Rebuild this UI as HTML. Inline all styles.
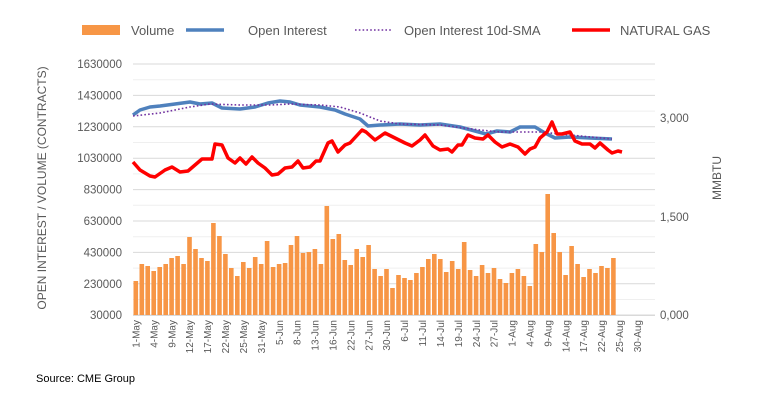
<!DOCTYPE html>
<html><head><meta charset="utf-8"><style>
body{margin:0;background:#fff;}
svg{display:block;font-family:"Liberation Sans",sans-serif;}
</style></head><body>
<svg width="761" height="414" xmlns="http://www.w3.org/2000/svg">
<rect width="761" height="414" fill="#fff"/>
<g stroke="#efefef" stroke-width="1">
<line x1="133" x2="655" y1="79.7" y2="79.7"/><line x1="133" x2="655" y1="111.1" y2="111.1"/><line x1="133" x2="655" y1="142.5" y2="142.5"/><line x1="133" x2="655" y1="173.9" y2="173.9"/><line x1="133" x2="655" y1="205.3" y2="205.3"/><line x1="133" x2="655" y1="236.7" y2="236.7"/><line x1="133" x2="655" y1="268.1" y2="268.1"/><line x1="133" x2="655" y1="299.5" y2="299.5"/>
</g>
<g stroke="#d9d9d9" stroke-width="1">
<line x1="133" x2="655" y1="64" y2="64"/><line x1="133" x2="655" y1="95.4" y2="95.4"/><line x1="133" x2="655" y1="126.8" y2="126.8"/><line x1="133" x2="655" y1="158.2" y2="158.2"/><line x1="133" x2="655" y1="189.6" y2="189.6"/><line x1="133" x2="655" y1="221" y2="221"/><line x1="133" x2="655" y1="252.4" y2="252.4"/><line x1="133" x2="655" y1="283.8" y2="283.8"/><line x1="133" x2="655" y1="315" y2="315"/>
</g>
<g fill="#f79646" id="bars">
<rect x="133.5" y="281" width="4.6" height="34"/><rect x="139.5" y="264" width="4.6" height="51"/><rect x="145.4" y="266" width="4.6" height="49"/><rect x="151.4" y="271" width="4.6" height="44"/><rect x="157.4" y="267" width="4.6" height="48"/><rect x="163.4" y="264" width="4.6" height="51"/><rect x="169.3" y="258" width="4.6" height="57"/><rect x="175.3" y="256" width="4.6" height="59"/><rect x="181.3" y="264" width="4.6" height="51"/><rect x="187.2" y="237" width="4.6" height="78"/><rect x="193.2" y="249" width="4.6" height="66"/><rect x="199.2" y="258" width="4.6" height="57"/><rect x="205.1" y="261" width="4.6" height="54"/><rect x="211.1" y="223" width="4.6" height="92"/><rect x="217.1" y="236" width="4.6" height="79"/><rect x="223.1" y="254" width="4.6" height="61"/><rect x="229" y="268" width="4.6" height="47"/><rect x="235" y="276" width="4.6" height="39"/><rect x="241" y="262" width="4.6" height="53"/><rect x="246.9" y="268" width="4.6" height="47"/><rect x="252.9" y="257" width="4.6" height="58"/><rect x="258.9" y="264" width="4.6" height="51"/><rect x="264.8" y="241" width="4.6" height="74"/><rect x="270.8" y="267" width="4.6" height="48"/><rect x="276.8" y="264" width="4.6" height="51"/><rect x="282.8" y="263" width="4.6" height="52"/><rect x="288.7" y="245" width="4.6" height="70"/><rect x="294.7" y="236" width="4.6" height="79"/><rect x="300.7" y="253" width="4.6" height="62"/><rect x="306.6" y="252" width="4.6" height="63"/><rect x="312.6" y="249" width="4.6" height="66"/><rect x="318.6" y="264" width="4.6" height="51"/><rect x="324.5" y="206" width="4.6" height="109"/><rect x="330.5" y="239" width="4.6" height="76"/><rect x="336.5" y="234" width="4.6" height="81"/><rect x="342.5" y="260" width="4.6" height="55"/><rect x="348.4" y="265" width="4.6" height="50"/><rect x="354.4" y="249" width="4.6" height="66"/><rect x="360.4" y="257" width="4.6" height="58"/><rect x="366.3" y="245" width="4.6" height="70"/><rect x="372.3" y="269" width="4.6" height="46"/><rect x="378.3" y="276" width="4.6" height="39"/><rect x="384.2" y="269" width="4.6" height="46"/><rect x="390.2" y="288" width="4.6" height="27"/><rect x="396.2" y="275" width="4.6" height="40"/><rect x="402.2" y="278" width="4.6" height="37"/><rect x="408.1" y="280" width="4.6" height="35"/><rect x="414.1" y="273" width="4.6" height="42"/><rect x="420.1" y="267" width="4.6" height="48"/><rect x="426" y="259" width="4.6" height="56"/><rect x="432" y="254" width="4.6" height="61"/><rect x="438" y="259" width="4.6" height="56"/><rect x="443.9" y="272" width="4.6" height="43"/><rect x="449.9" y="261" width="4.6" height="54"/><rect x="455.9" y="269" width="4.6" height="46"/><rect x="461.9" y="242" width="4.6" height="73"/><rect x="467.8" y="270" width="4.6" height="45"/><rect x="473.8" y="276" width="4.6" height="39"/><rect x="479.8" y="265" width="4.6" height="50"/><rect x="485.7" y="273" width="4.6" height="42"/><rect x="491.7" y="268" width="4.6" height="47"/><rect x="497.7" y="279" width="4.6" height="36"/><rect x="503.6" y="283" width="4.6" height="32"/><rect x="509.6" y="273" width="4.6" height="42"/><rect x="515.6" y="269" width="4.6" height="46"/><rect x="521.6" y="276" width="4.6" height="39"/><rect x="527.5" y="286" width="4.6" height="29"/><rect x="533.5" y="244" width="4.6" height="71"/><rect x="539.5" y="252" width="4.6" height="63"/><rect x="545.4" y="194" width="4.6" height="121"/><rect x="551.4" y="233" width="4.6" height="82"/><rect x="557.4" y="252" width="4.6" height="63"/><rect x="563.3" y="275" width="4.6" height="40"/><rect x="569.3" y="246" width="4.6" height="69"/><rect x="575.3" y="264" width="4.6" height="51"/><rect x="581.3" y="277" width="4.6" height="38"/><rect x="587.2" y="269" width="4.6" height="46"/><rect x="593.2" y="273" width="4.6" height="42"/><rect x="599.2" y="266" width="4.6" height="49"/><rect x="605.1" y="268" width="4.6" height="47"/><rect x="611.1" y="258" width="4.6" height="57"/>
</g>
<line x1="133" x2="655" y1="315.5" y2="315.5" stroke="#d9d9d9"/>
<polyline fill="none" stroke="#4f81bd" stroke-width="3.5" stroke-linejoin="round" points="133,115 140,110 150,107 160,106 175,104 190,102 200,104 212,103 222,108 240,109 255,107 268,103 280,101 290,102 300,105 320,107 335,110 345,114 360,119 368,126 380,125 400,124 420,125 440,124 460,127 475,131 486,134 497,131 510,132 520,127 535,127 545,133 555,138 570,137 590,138 612,139"/>
<polyline fill="none" stroke="#7030a0" stroke-width="1.6" stroke-dasharray="1.6,2.2" points="133,116 160,113 190,107 210,104 240,105 270,105 290,104 320,105 340,107 360,113 380,121 400,124 440,125 480,130 500,132 540,132 570,135 612,139"/>
<polyline fill="none" stroke="#ff0000" stroke-width="3.5" stroke-linejoin="round" points="133,162 140,170 150,176 155,177 165,170 172,167 180,172 188,171 195,165 202,159 212,159 215,144 222,145 228,158 235,163 240,158 246,164 252,157 258,163 265,168 272,175 278,174 285,168 292,167 298,161 303,168 310,167 316,161 320,161 328,143 332,141 338,152 345,145 350,143 362,130 366,132 375,140 385,133 395,138 405,143 412,146 420,140 425,135 433,146 440,150 448,149 452,152 458,145 462,145 468,135 475,138 483,139 488,135 495,142 502,147 510,144 518,147 525,154 530,149 535,147 540,138 547,132 552,122 557,134 562,134 570,132 575,141 582,144 590,144 595,148 600,143 608,150 612,153 618,151 622,152"/>
<g font-size="11.5" fill="#595959" text-anchor="end">
<text x="122" y="68">1630000</text><text x="122" y="99.4">1430000</text><text x="122" y="130.8">1230000</text><text x="122" y="162.2">1030000</text><text x="122" y="193.6">830000</text><text x="122" y="225">630000</text><text x="122" y="256.4">430000</text><text x="122" y="287.8">230000</text><text x="122" y="319">30000</text>
</g>
<g font-size="11.5" fill="#595959">
<text x="660" y="122">3,000</text><text x="660" y="221">1,500</text><text x="660" y="319">0,000</text>
</g>
<text transform="translate(46,188) rotate(-90)" text-anchor="middle" font-size="12" fill="#595959">OPEN INTEREST / VOLUME (CONTRACTS)</text>
<text transform="translate(721,178) rotate(-90)" text-anchor="middle" font-size="12" fill="#595959">MMBTU</text>
<g font-size="10" fill="#595959" text-anchor="end">
<text transform="translate(139.5,320) rotate(-90)">1-May</text><text transform="translate(157.4,320) rotate(-90)">4-May</text><text transform="translate(175.3,320) rotate(-90)">9-May</text><text transform="translate(193.2,320) rotate(-90)">12-May</text><text transform="translate(211.1,320) rotate(-90)">17-May</text><text transform="translate(229,320) rotate(-90)">22-May</text><text transform="translate(246.9,320) rotate(-90)">25-May</text><text transform="translate(264.8,320) rotate(-90)">31-May</text><text transform="translate(282.8,320) rotate(-90)">5-Jun</text><text transform="translate(300.7,320) rotate(-90)">8-Jun</text><text transform="translate(318.6,320) rotate(-90)">13-Jun</text><text transform="translate(336.5,320) rotate(-90)">16-Jun</text><text transform="translate(354.4,320) rotate(-90)">22-Jun</text><text transform="translate(372.3,320) rotate(-90)">27-Jun</text><text transform="translate(390.2,320) rotate(-90)">30-Jun</text><text transform="translate(408.1,320) rotate(-90)">6-Jul</text><text transform="translate(426,320) rotate(-90)">11-Jul</text><text transform="translate(443.9,320) rotate(-90)">14-Jul</text><text transform="translate(461.9,320) rotate(-90)">19-Jul</text><text transform="translate(479.8,320) rotate(-90)">24-Jul</text><text transform="translate(497.7,320) rotate(-90)">27-Jul</text><text transform="translate(515.6,320) rotate(-90)">1-Aug</text><text transform="translate(533.5,320) rotate(-90)">4-Aug</text><text transform="translate(551.4,320) rotate(-90)">9-Aug</text><text transform="translate(569.3,320) rotate(-90)">14-Aug</text><text transform="translate(587.2,320) rotate(-90)">17-Aug</text><text transform="translate(605.1,320) rotate(-90)">22-Aug</text><text transform="translate(623,320) rotate(-90)">25-Aug</text><text transform="translate(640.9,320) rotate(-90)">30-Aug</text>
</g>
<rect x="82" y="25" width="38" height="10" fill="#f79646"/>
<text x="131" y="35" font-size="13" fill="#595959">Volume</text>
<line x1="186" x2="224" y1="30" y2="30" stroke="#4f81bd" stroke-width="3.5"/>
<text x="248" y="35" font-size="13" fill="#595959">Open Interest</text>
<line x1="355" x2="393" y1="30" y2="30" stroke="#7030a0" stroke-width="1.6" stroke-dasharray="1.6,2.2"/>
<text x="404" y="35" font-size="13" fill="#595959">Open Interest 10d-SMA</text>
<line x1="572" x2="610" y1="30" y2="30" stroke="#ff0000" stroke-width="3.5"/>
<text x="620" y="35" font-size="13" fill="#595959">NATURAL GAS</text>
<text x="36" y="382" font-size="11" fill="#000">Source: CME Group</text>
</svg>
</body></html>
